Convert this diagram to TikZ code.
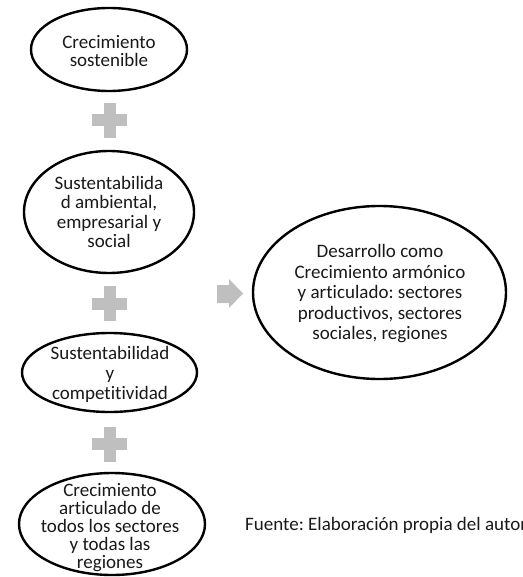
\documentclass[tikz,border=0pt]{standalone}
\usepackage{fontspec}
\setmainfont{Carlito}[Ligatures=NoCommon]
\usetikzlibrary{shapes.geometric}
\definecolor{plusgray}{RGB}{191,191,191}
\frenchspacing
\begin{document}
\begin{tikzpicture}[x=1pt,y=-1pt,
  ell/.style={draw, ellipse, line width=2.4pt, inner sep=0pt},
  txt/.style={align=center, inner sep=0pt, text=black!90},
  fs/.style={font=\fontsize{19}{#1}\selectfont},
  plussign/.pic={
    \fill[plusgray] (-17.5,-6) rectangle (17.5,6);
    \fill[plusgray] (-6,-17.5) rectangle (6,17.5);
  }]
\useasboundingbox (0,0) rectangle (522,577);

% ellipses
\node[ell, minimum width=156pt, minimum height=83pt] (e1) at (109,49.5) {};
\node[txt, fs=18.3] (t1) at (109,51) {Crecimiento\\sostenible};

\node[ell, minimum width=170pt, minimum height=122pt] (e2) at (109,212) {};
\node[txt, fs=19.3] (t2) at (109,212) {Sustentabilida\\d ambiental,\\empresarial y\\social};

\node[ell, minimum width=175pt, minimum height=79pt] (e3) at (109.5,372.5) {};
\node[txt, fs=20] (t3) at (110,374.5) {Sustentabilidad\\y\\competitividad};

\node[ell, minimum width=186pt, minimum height=102pt] (e4) at (112,524) {};
\node[txt, fs=18] (t4) at (110,528) {Crecimiento\\articulado de\\todos los sectores\\y todas las\\regiones};

\node[ell, minimum width=253pt, minimum height=173pt] (e5) at (379.5,292.5) {};
\node[txt, fs=20.5] (t5) at (380,294) {Desarrollo como\\Crecimiento armónico\\y articulado: sectores\\productivos, sectores\\sociales, regiones};

% plus signs
\pic at (109.5,120.5) {plussign};
\pic at (109.5,303.5) {plussign};
\pic at (109.5,444) {plussign};

% arrow
\fill[plusgray] (217,285) -- (229,285) -- (229,279) -- (243,293.5) -- (229,308) -- (229,303) -- (217,303) -- cycle;

% source
\node[txt, fs=22, anchor=base west] (src) at (245,530) {Fuente: Elaboración propia del autor};
\end{tikzpicture}
\end{document}
